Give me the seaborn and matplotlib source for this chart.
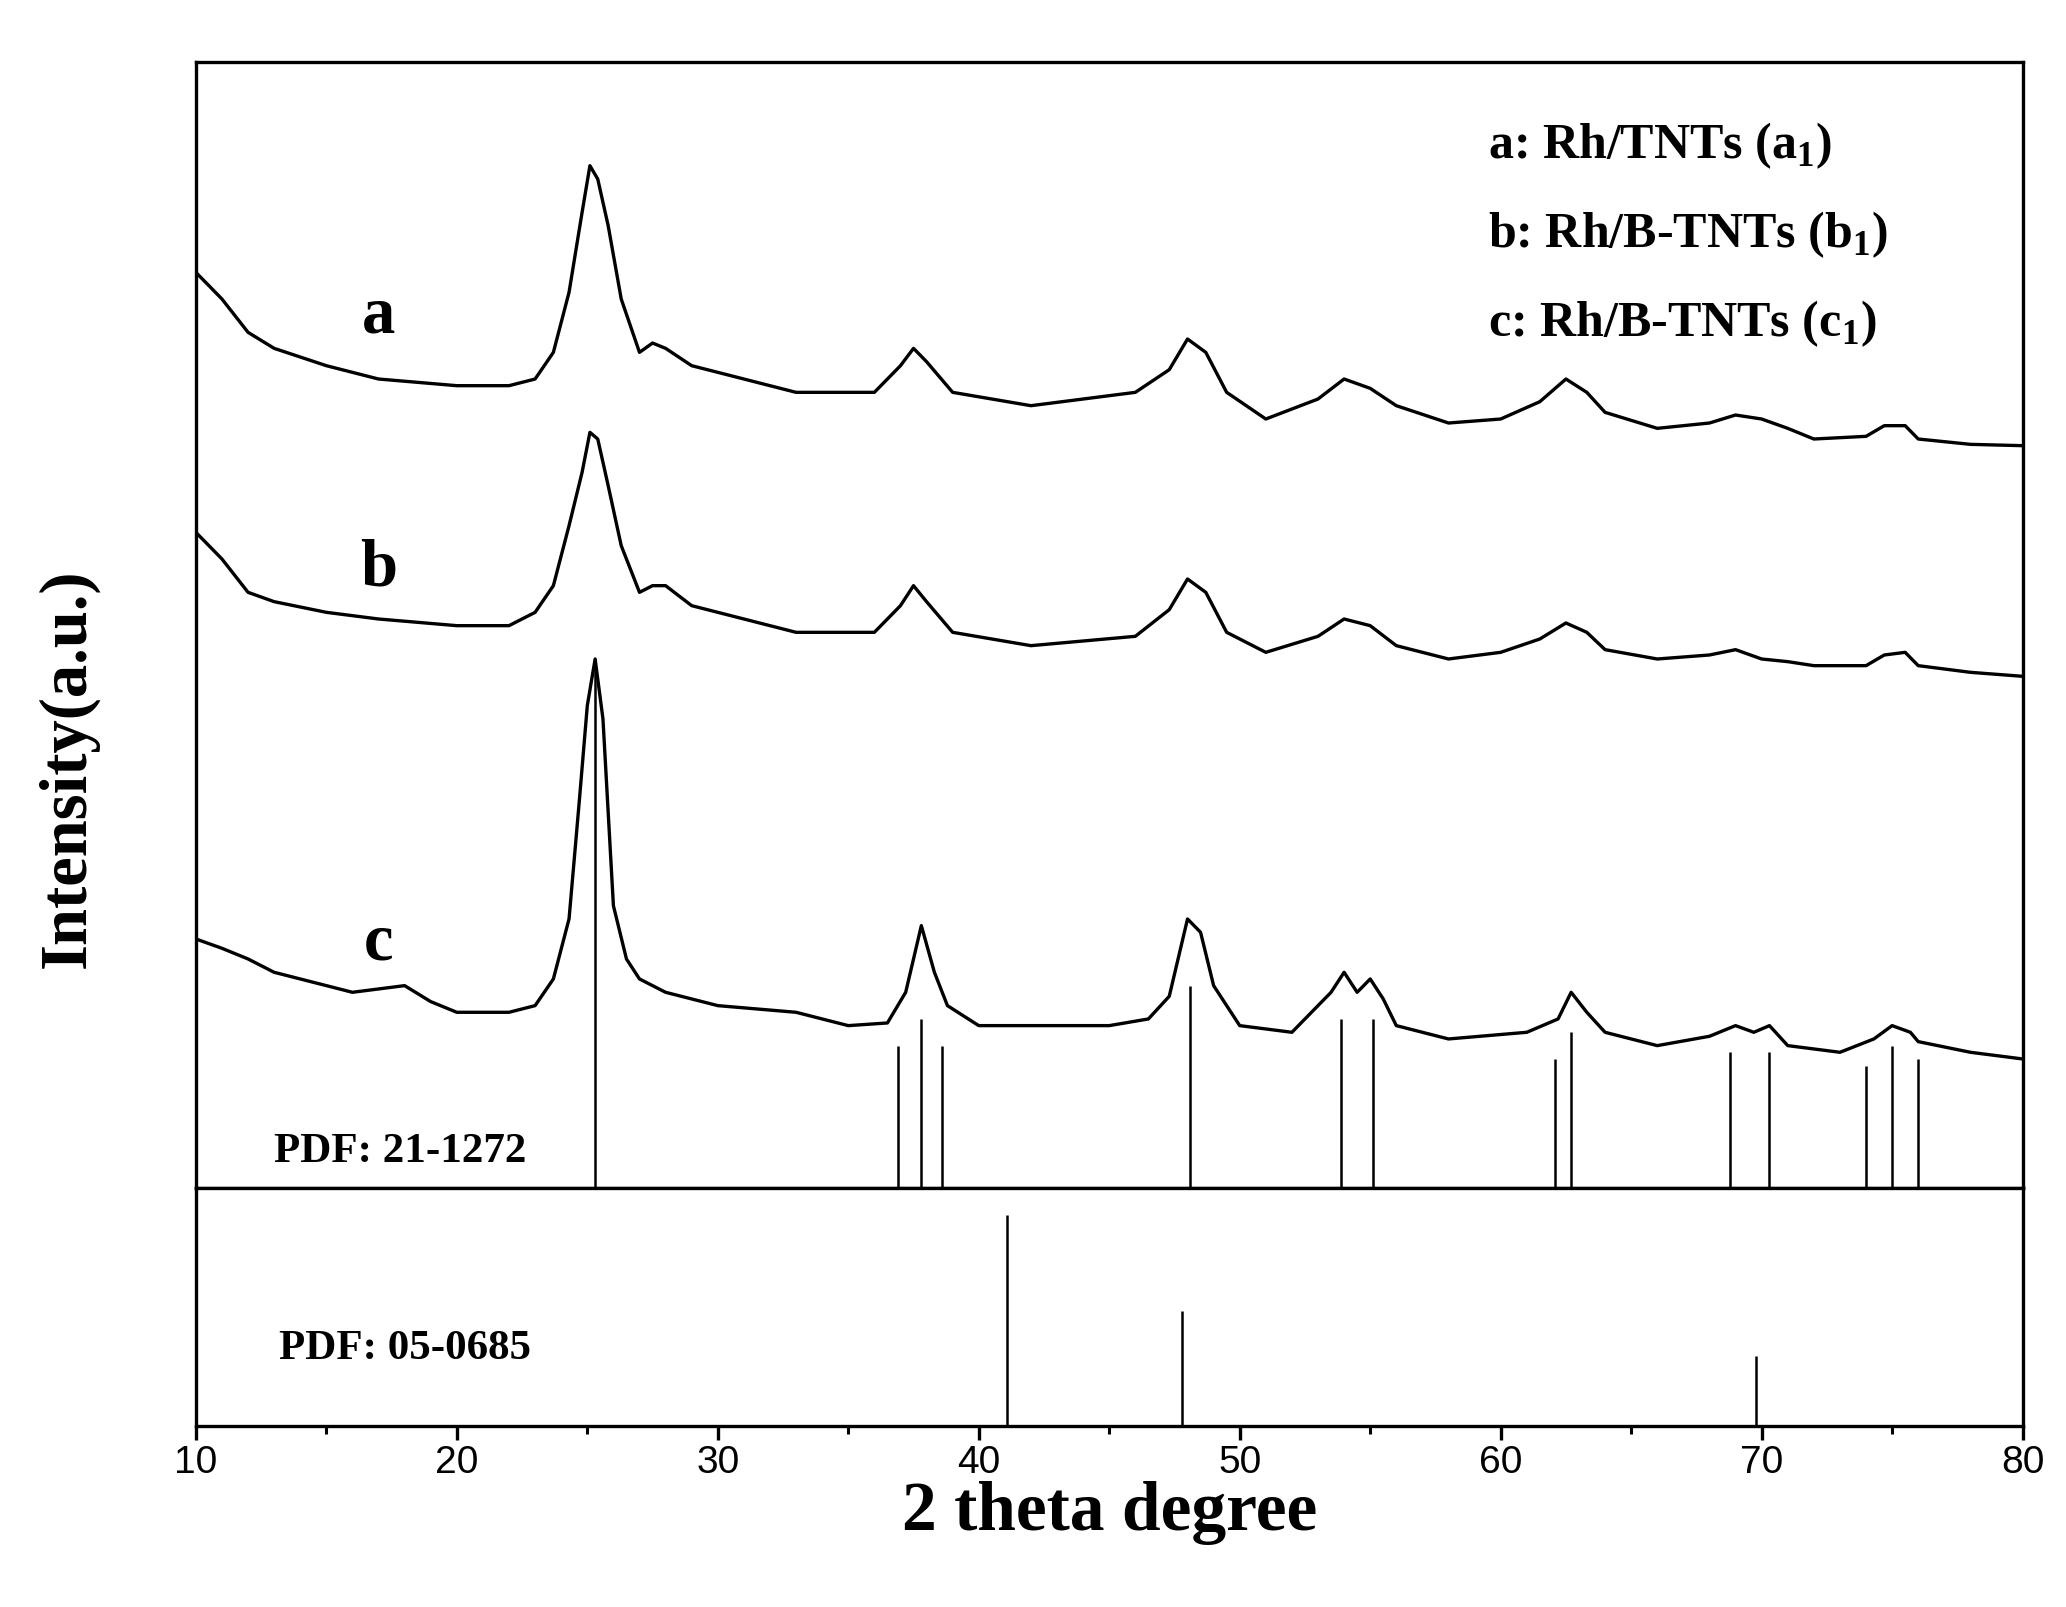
import matplotlib
matplotlib.use("Agg")
import matplotlib.pyplot as plt
import seaborn as sns
import pandas as pd

sns.set_theme(style="white")
plt.rcParams['font.family'] = ['Liberation Serif', 'DejaVu Serif']
plt.rcParams['text.color'] = 'black'
plt.rcParams['xtick.color'] = 'black'
plt.rcParams['axes.labelcolor'] = 'black'

# curve a
a_x = [10,11,12,13,15,17,20,22,23,23.7,24.3,24.8,25.1,25.4,25.8,26.3,27,27.5,28,29,30,33,36,37,37.5,38,39,42,46,47.3,48,48.7,49.5,51,53,54,55,56,58,60,61.5,62.5,63.3,64,66,68,69,70,71,72,74,74.7,75.5,76,78,80]
a_p = [205,225,250,262,275,285,290,290,285,265,220,160,125,135,170,225,265,258,262,275,280,295,295,275,262,272,295,305,295,278,255,265,295,315,300,285,292,305,318,315,302,285,295,310,322,318,312,315,322,330,328,320,320,330,334,335]
# curve b
b_x = a_x
b_p = [400,420,445,452,460,465,470,470,460,440,395,355,325,330,365,410,445,440,440,455,460,475,475,455,440,452,475,485,478,458,435,445,475,490,478,465,470,485,495,490,480,468,475,488,495,492,488,495,497,500,500,492,490,500,505,508]
# curve c
c_x = [10,11,12,13,15,16,18,19,20,22,23,23.7,24.3,24.7,25.0,25.3,25.6,26,26.5,27,28,30,33,35,36.5,37.2,37.8,38.3,38.8,40,45,46.5,47.3,48,48.5,49,50,52,53.5,54,54.5,55,55.5,56,58,61,62.2,62.7,63.3,64,66,68,69,69.7,70.3,71,73,74.3,75,75.7,76,78,80]
c_p = [705,712,720,730,740,745,740,752,760,760,755,735,690,600,530,495,540,680,720,735,745,755,760,770,768,745,695,730,755,770,770,765,748,690,700,740,770,775,745,730,745,735,750,770,780,775,765,745,760,775,785,778,770,775,770,785,790,780,770,775,782,790,795]

# reference sticks
pdf1_x = [25.3,36.9,37.8,38.6,48.1,53.9,55.1,62.1,62.7,68.8,70.3,74.0,75.0,76.0]
pdf1_top = [495,785,765,785,740,765,765,795,775,790,790,800,785,795]
pdf2_x = [41.1,47.8,69.8]
pdf2_h = [158,86,52]

labels = ["a", "b", "c"]
legend_lines = ["a: Rh/TNTs (a$_\\mathregular{1}$)", "b: Rh/B-TNTs (b$_\\mathregular{1}$)", "c: Rh/B-TNTs (c$_\\mathregular{1}$)"]

fig = plt.figure(figsize=(20.66, 16.08), dpi=100)
L, R = 0.0948, 0.979
top, mid, bot = 0.961, 0.2604, 0.1128
ax1 = fig.add_axes([L, mid, R-L, top-mid])
ax2 = fig.add_axes([L, bot, R-L, mid-bot], sharex=ax1)

for xs, ps in [(a_x, a_p), (b_x, b_p), (c_x, c_p)]:
    df = pd.DataFrame({"x": xs, "y": [892 - p for p in ps]})
    sns.lineplot(data=df, x="x", y="y", ax=ax1, color="black", lw=2.4, sort=False, estimator=None)

ax1.vlines(pdf1_x, 0, [892 - t for t in pdf1_top], color="black", lw=1.8)
ax2.vlines(pdf2_x, 0, pdf2_h, color="black", lw=1.8)

ax1.set_xlim(10, 80)
ax1.set_ylim(0, 845)
ax2.set_ylim(0, 178)
for ax in (ax1, ax2):
    ax.set_yticks([])
    ax.set_ylabel("")
    ax.set_xlabel("")
    for s in ax.spines.values():
        s.set_color("black"); s.set_linewidth(2.4)
ax1.tick_params(axis="x", bottom=False, labelbottom=False)
ax2.set_xticks(range(10, 81, 10))
ax2.set_xticks(range(15, 80, 10), minor=True)
ax2.tick_params(axis="x", which="major", direction="out", length=10, width=2.4, labelsize=28, bottom=True, color="black", labelcolor="black")
ax2.tick_params(axis="x", which="minor", direction="out", length=6, width=2.2, bottom=True, color="black")
for t in ax2.get_xticklabels():
    t.set_fontfamily("Liberation Sans")
ax2.set_xlabel("2 theta degree", fontsize=50, fontweight="bold", labelpad=0)

fig.text(0.033, 0.522, "Intensity(a.u.)", rotation=90, fontsize=48, fontweight="bold", ha="center", va="center")

for lab, (x, y) in zip(labels, [(17.0, 655), (17.0, 465), (17.0, 185)]):
    ax1.text(x, y, lab, fontsize=48, fontweight="bold", ha="center", va="center")
for i, t in enumerate(legend_lines):
    ax1.text(59.5, 783 - i * 67, t, fontsize=36, fontweight="bold", ha="left", va="center")
ax1.text(13.0, 28, "PDF: 21-1272", fontsize=31, fontweight="bold", ha="left", va="center")
ax2.text(13.2, 58, "PDF: 05-0685", fontsize=31, fontweight="bold", ha="left", va="center")

fig.savefig("out.png", dpi=100, facecolor="white")
